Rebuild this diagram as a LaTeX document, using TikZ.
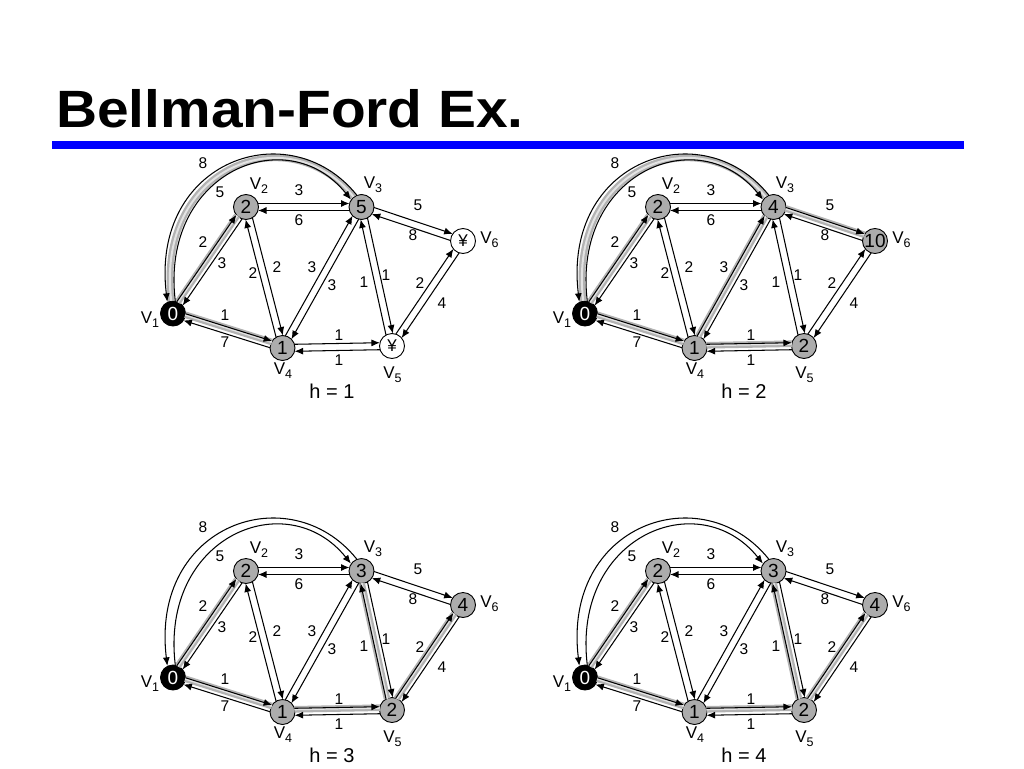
\documentclass[tikz,border=0pt]{standalone}
\usepackage{fontspec}
\setmainfont{Liberation Sans}
\usetikzlibrary{calc,arrows.meta}
\definecolor{nodegray}{RGB}{172,172,172}
\definecolor{titleblue}{RGB}{0,0,255}
\tikzset{
  vtx/.style={circle,draw=black,line width=0.9pt,fill=nodegray,minimum size=25pt,inner sep=0pt,font=\fontsize{19}{19}\selectfont},
  srcv/.style={vtx,fill=black,text=white},
  unkv/.style={vtx,fill=white,font=\fontsize{17}{17}\selectfont},
  edg/.style={line width=1.05pt,-{Latex[length=8.5pt,width=7pt]},shorten >=12pt,shorten <=12pt},
  arcedg/.style={line width=1.05pt,-{Latex[length=8.5pt,width=7pt]}},
  hl/.style={draw=gray!60,line width=2.3pt,double=gray!22,double distance=2pt,shorten >=12pt,shorten <=12pt},
  hlarc/.style={draw=gray!60,line width=2.3pt,double=gray!22,double distance=2pt},
  wl/.style={font=\fontsize{15.5}{15.5}\selectfont,inner sep=0pt},
  vl/.style={font=\fontsize{17}{17}\selectfont,inner sep=0pt},
  hlab/.style={font=\fontsize{20}{20}\selectfont,inner sep=0pt},
}
\newcommand\vsub[1]{V\raisebox{-4pt}{\fontsize{12.5}{12.5}\selectfont#1}}
\newcommand\dedge[2]{\draw[edg] ($(#1)!3.5pt!90:(#2)$) -- ($(#2)!3.5pt!-90:(#1)$);}
\newcommand\hedge[2]{\draw[hl] ($(#1)!2.5pt!90:(#2)$) -- ($(#2)!2.5pt!-90:(#1)$);}
\newcommand\harc{\draw[hlarc] (v1.98) .. controls (155,-166) and (288.5,-116) .. (v3.128);}
\newcommand\bfnodes[8]{%
  \node[srcv] (v1) at (173,-313.5) {#1};
  \node[vtx] (v2) at (246,-207) {#2};
  \node[vtx] (v3) at (361.5,-207) {#3};
  \node[vtx] (v4) at (282.5,-348) {#4};
  \node[#7] (v5) at (392,-346) {#5};
  \node[#8] (v6) at (463,-241) {#6};
  \node[vl] (l1) at (150,-320) {\vsub{1}};
  \node[vl] (l2) at (259,-186) {\vsub{2}};
  \node[vl] (l3) at (373,-185) {\vsub{3}};
  \node[vl] (l4) at (283,-371) {\vsub{4}};
  \node[vl] (l5) at (392.5,-375) {\vsub{5}};
  \node[vl] (l6) at (489.5,-240) {\vsub{6}};
}
\newcommand\bfedges[1]{%
  \dedge{v1}{v2}\dedge{v2}{v1}
  \dedge{v2}{v3}\dedge{v3}{v2}
  \dedge{v1}{v4}\dedge{v4}{v1}
  \dedge{v4}{v2}\dedge{v2}{v4}
  \dedge{v4}{v3}\dedge{v3}{v4}
  \dedge{v4}{v5}\dedge{v5}{v4}
  \dedge{v5}{v3}\dedge{v3}{v5}
  \dedge{v3}{v6}\dedge{v6}{v3}
  \dedge{v5}{v6}\dedge{v6}{v5}
  \draw[arcedg] (v3.112) .. controls (290,-112) and (150,-160) .. (v1.116);
  \draw[arcedg] (v1.80) .. controls (160,-172) and (287,-120) .. (v3.145);
  \node[wl] (w1) at (203,-163) {8};
  \node[wl] (w2) at (220,-192) {5};
  \node[wl] (w3) at (299,-190) {3};
  \node[wl] (w4) at (299,-220) {6};
  \node[wl] (w5) at (418,-205) {5};
  \node[wl] (w6) at (413,-235) {8};
  \node[wl] (w7) at (203,-242) {2};
  \node[wl] (w8) at (222,-263) {3};
  \node[wl] (w9) at (253,-273) {2};
  \node[wl] (w10) at (277,-267) {2};
  \node[wl] (w11) at (312,-267) {3};
  \node[wl] (w12) at (332,-285) {3};
  \node[wl] (w13) at (364,-282) {1};
  \node[wl] (w14) at (386,-275) {1};
  \node[wl] (w15) at (420,-283) {2};
  \node[wl] (w16) at (442,-303) {4};
  \node[wl] (w17) at (225,-315) {1};
  \node[wl] (w18) at (225,-342) {7};
  \node[wl] (w19) at (339,-335) {1};
  \node[wl] (w20) at (339,-360) {1};
  \node[hlab] (h) at (332,-391) {#1};
}
\begin{document}
\begin{tikzpicture}[x=1pt,y=1pt]
  \useasboundingbox[fill=white] (0,0) rectangle (1024,-768);
  \node[anchor=base west,inner sep=0pt,font=\fontsize{52.5}{52.5}\selectfont\bfseries] (title) at (56,-127.5) {\scalebox{1.083}[1]{Bellman-Ford Ex.}};
  \fill[titleblue] (52,-141) rectangle (964,-149);
  \begin{scope}[name prefix=a-]
    \bfnodes{0}{2}{5}{1}{¥}{¥}{unkv}{unkv}
    \harc \hedge{v1}{v2} \hedge{v1}{v4}
    \bfedges{h = 1}
  \end{scope}
  \begin{scope}[shift={(412,0)},name prefix=b-]
    \bfnodes{0}{2}{4}{1}{2}{10}{vtx}{vtx}
    \harc \hedge{v1}{v2} \hedge{v1}{v4} \hedge{v4}{v3} \hedge{v4}{v5} \hedge{v3}{v6}
    \bfedges{h = 2}
  \end{scope}
  \begin{scope}[shift={(0,-364)},name prefix=c-]
    \bfnodes{0}{2}{3}{1}{2}{4}{vtx}{vtx}
    \hedge{v1}{v2} \hedge{v1}{v4} \hedge{v4}{v5} \hedge{v5}{v3} \hedge{v5}{v6}
    \bfedges{h = 3}
  \end{scope}
  \begin{scope}[shift={(412,-364)},name prefix=d-]
    \bfnodes{0}{2}{3}{1}{2}{4}{vtx}{vtx}
    \hedge{v1}{v2} \hedge{v1}{v4} \hedge{v4}{v5} \hedge{v5}{v3} \hedge{v5}{v6}
    \bfedges{h = 4}
  \end{scope}
\end{tikzpicture}
\end{document}
